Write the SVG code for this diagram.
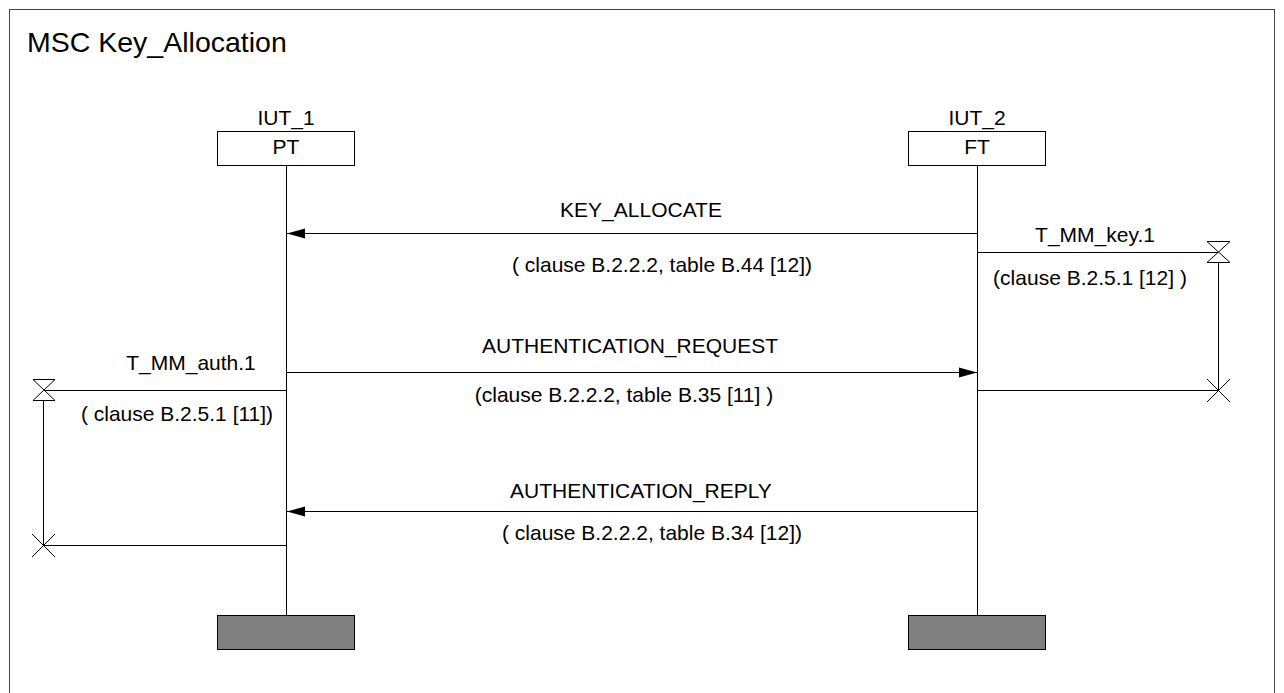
<svg xmlns="http://www.w3.org/2000/svg" width="1284" height="693" viewBox="0 0 1284 693">
<style>
text{font-family:"Liberation Sans",Arial,sans-serif;font-size:21px;fill:#000}
.t{font-size:28.5px}
.m{text-anchor:middle}
.ln{stroke:#000;stroke-width:1;fill:none}
.box{fill:#fff;stroke:#000;stroke-width:1}
.endb{fill:#808080;stroke:#000;stroke-width:1}
</style>
<defs>
<marker id="ah" markerUnits="userSpaceOnUse" markerWidth="20" markerHeight="12" refX="18" refY="6" orient="auto">
<path d="M0,1 L18,6 L0,11 Z" fill="#000"/>
</marker>
</defs>
<rect x="9.5" y="9.5" width="1265" height="700" fill="#fff" stroke="#444" stroke-width="1"/>
<text class="t" x="27" y="52">MSC Key_Allocation</text>
<g id="PT">
<text class="m" x="286" y="125">IUT_1</text>
<rect class="box" x="217.5" y="131.5" width="137" height="34"/>
<text class="m" x="286" y="154">PT</text>
<line class="ln" x1="286.5" y1="165" x2="286.5" y2="615"/>
<rect class="endb" x="217.5" y="615.5" width="137" height="34"/>
</g>
<g id="FT">
<text class="m" x="977" y="125">IUT_2</text>
<rect class="box" x="908.5" y="131.5" width="137" height="34"/>
<text class="m" x="977" y="154">FT</text>
<line class="ln" x1="977.5" y1="165" x2="977.5" y2="615"/>
<rect class="endb" x="908.5" y="615.5" width="137" height="34"/>
</g>
<g id="connectors">
<line class="ln" x1="977" y1="233.5" x2="287" y2="233.5" marker-end="url(#ah)"/>
<text class="m" x="641" y="217">KEY_ALLOCATE</text>
<text class="m" x="662" y="272">( clause B.2.2.2, table B.44 [12])</text>
<line class="ln" x1="287" y1="372.5" x2="977" y2="372.5" marker-end="url(#ah)"/>
<text class="m" x="630" y="353">AUTHENTICATION_REQUEST</text>
<text class="m" x="624" y="402">(clause B.2.2.2, table B.35 [11] )</text>
<line class="ln" x1="977" y1="511.5" x2="287" y2="511.5" marker-end="url(#ah)"/>
<text class="m" x="641" y="498">AUTHENTICATION_REPLY</text>
<text class="m" x="652" y="540">( clause B.2.2.2, table B.34 [12])</text>
</g>
<g id="timer_key">
<line class="ln" x1="978" y1="252.5" x2="1218" y2="252.5"/>
<path class="ln" d="M1207,241.5 L1230,241.5 L1207,262.5 L1230,262.5 Z"/>
<line class="ln" x1="1218.5" y1="262" x2="1218.5" y2="390"/>
<line class="ln" x1="978" y1="390.5" x2="1218" y2="390.5"/>
<path class="ln" d="M1207,379 L1230,402 M1230,379 L1207,402"/>
<text class="m" x="1095" y="242">T_MM_key.1</text>
<text class="m" x="1090" y="285">(clause B.2.5.1 [12] )</text>
</g>
<g id="timer_auth">
<line class="ln" x1="44" y1="390.5" x2="286" y2="390.5"/>
<path class="ln" d="M33,379.5 L55,379.5 L33,400.5 L55,400.5 Z"/>
<line class="ln" x1="43.5" y1="400" x2="43.5" y2="545"/>
<line class="ln" x1="44" y1="545.5" x2="286" y2="545.5"/>
<path class="ln" d="M32,534 L55,557 M55,534 L32,557"/>
<text class="m" x="191" y="370">T_MM_auth.1</text>
<text class="m" x="177" y="421">( clause B.2.5.1 [11])</text>
</g>
</svg>
